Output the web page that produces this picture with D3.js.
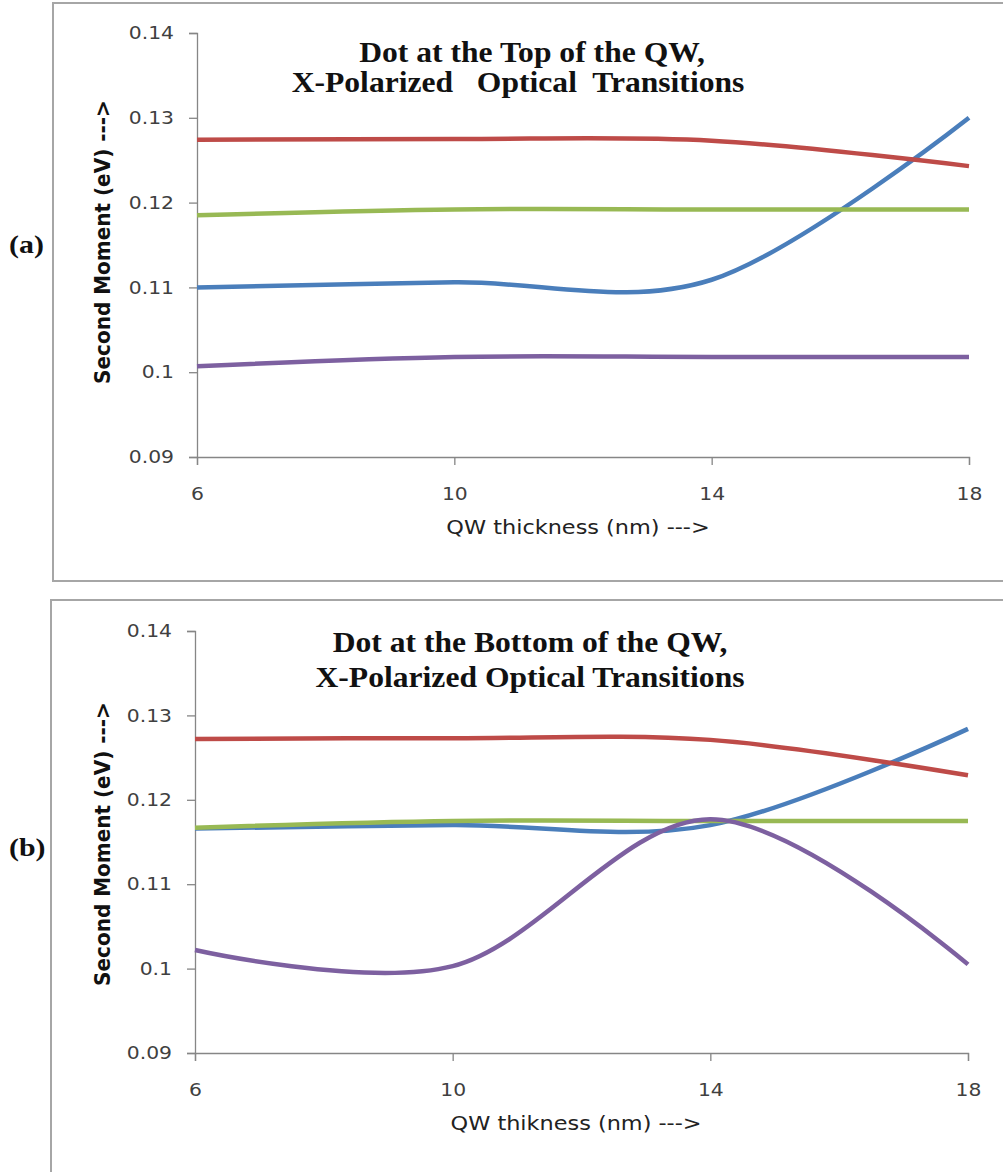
<!DOCTYPE html>
<html>
<head>
<meta charset="utf-8">
<script src="https://cdn.jsdelivr.net/npm/d3@7"></script>
<style>
  html, body { margin: 0; padding: 0; background: #fff; }
  svg { display: block; }
</style>
</head>
<body>
<svg id="chart" width="1003" height="1172"></svg>
<script>
// QW thickness values (nm) sampled for every series
const thickness = [6, 10, 14, 18];
const xTickValues = [6, 10, 14, 18];
const yTickValues = [0.09, 0.10, 0.11, 0.12, 0.13, 0.14];

// (a) dot at the top of the QW
const topBlue   = [0.1100, 0.1106, 0.1109, 0.1300];
const topRed    = [0.1274, 0.1275, 0.1273, 0.1243];
const topGreen  = [0.1185, 0.1192, 0.1192, 0.1192];
const topPurple = [0.1007, 0.1018, 0.1018, 0.1018];

// (b) dot at the bottom of the QW
const botBlue   = [0.1166, 0.1170, 0.1170, 0.1284];
const botRed    = [0.1272, 0.1273, 0.1271, 0.1229];
const botGreen  = [0.1167, 0.1175, 0.1175, 0.1175];
const botPurple = [0.1022, 0.1003, 0.1177, 0.1005];

const seriesColors = ["#4a7ebb", "#be4b48", "#98b954", "#7d60a0"];

const panels = [
  {
    tag: "(a)",
    title: ["Dot at the Top of the QW,", "X-Polarized   Optical  Transitions"],
    titleX: [532, 518], titleY: [62, 92],
    xTitle: "QW thickness (nm) --->", xTitleX: 578,
    series: [topBlue, topRed, topGreen, topPurple],
    box: { x: 53, y: 3, w: 1000, h: 578 },
    plot: { left: 197, right: 969, top: 33, bottom: 457 },
    yTitleY: 242, tagY: 253
  },
  {
    tag: "(b)",
    title: ["Dot at the Bottom of the QW,", "X-Polarized Optical Transitions"],
    titleX: [530, 530], titleY: [652, 687],
    xTitle: "QW thikness (nm) --->", xTitleX: 576,
    series: [botBlue, botRed, botGreen, botPurple],
    box: { x: 51, y: 600, w: 1000, h: 600 },
    plot: { left: 195, right: 968, top: 631, bottom: 1053 },
    yTitleY: 844, tagY: 856
  }
];

const svg = d3.select("#chart");
const axisColor = "#868686";
const labelColor = "#404040";
const sansFont = "'DejaVu Sans', Verdana, sans-serif";
const serifFont = "'Liberation Serif', 'Times New Roman', serif";

panels.forEach(p => {
  const g = svg.append("g");

  // panel frame
  g.append("rect")
    .attr("x", p.box.x).attr("y", p.box.y)
    .attr("width", p.box.w).attr("height", p.box.h)
    .attr("fill", "none").attr("stroke", "#a6a6a6").attr("stroke-width", 2);

  const x = d3.scaleLinear().domain([6, 18]).range([p.plot.left, p.plot.right]);
  const y = d3.scaleLinear().domain([0.09, 0.14]).range([p.plot.bottom, p.plot.top]);

  // y axis
  const yAxis = g.append("g")
    .attr("transform", `translate(${p.plot.left},0)`)
    .call(d3.axisLeft(y).tickValues(yTickValues)
      .tickFormat(d => d3.format(".2~f")(d)).tickSize(8).tickPadding(15));
  // x axis
  const xAxis = g.append("g")
    .attr("transform", `translate(0,${p.plot.bottom})`)
    .call(d3.axisBottom(x).tickValues(xTickValues).tickSize(8).tickPadding(22));

  [yAxis, xAxis].forEach(ax => {
    ax.select(".domain").attr("stroke", axisColor).attr("stroke-width", 1.3);
    ax.selectAll(".tick line").attr("stroke", axisColor).attr("stroke-width", 1.3);
    ax.selectAll(".tick text")
      .attr("fill", labelColor)
      .style("font-family", sansFont)
      .style("font-size", "18px");
  });
  // slightly widened tick labels
  yAxis.selectAll(".tick text")
    .attr("x", 0)
    .attr("transform", "translate(-23,0) scale(1.13,1)");
  xAxis.selectAll(".tick text")
    .attr("transform", "scale(1.13,1)");

  // series lines (smoothed)
  const line = d3.line()
    .x((d, i) => x(thickness[i]))
    .y(d => y(d))
    .curve(d3.curveCardinal.tension(0));

  p.series.forEach((vals, i) => {
    g.append("path")
      .datum(vals)
      .attr("d", line)
      .attr("fill", "none")
      .attr("stroke", seriesColors[i])
      .attr("stroke-width", 4.5)
      .attr("stroke-linecap", "butt");
  });

  // chart title
  p.title.forEach((t, i) => {
    g.append("text")
      .attr("transform", `translate(${p.titleX[i]},${p.titleY[i]}) scale(1.09,1)`)
      .attr("text-anchor", "middle")
      .style("font-family", serifFont)
      .style("font-weight", "bold")
      .style("font-size", "29px")
      .style("white-space", "pre")
      .attr("fill", "#111")
      .text(t);
  });

  // x axis title
  g.append("text")
    .attr("transform", `translate(${p.xTitleX},${p.plot.bottom + 77}) scale(1.12,1)`)
    .attr("text-anchor", "middle")
    .style("font-family", sansFont)
    .style("font-size", "20px")
    .attr("fill", "#222")
    .text(p.xTitle);

  // y axis title
  g.append("text")
    .attr("transform", `translate(110,${p.yTitleY}) rotate(-90) scale(1,1.05)`)
    .attr("text-anchor", "middle")
    .style("font-family", sansFont)
    .style("font-weight", "bold")
    .style("font-size", "20px")
    .attr("fill", "#111")
    .text("Second Moment (eV) --->");

  // panel tag
  g.append("text")
    .attr("transform", `translate(9,${p.tagY}) scale(1.15,1)`)
    .style("font-family", serifFont)
    .style("font-weight", "bold")
    .style("font-size", "26px")
    .attr("fill", "#111")
    .text(p.tag);
});
</script>
</body>
</html>
